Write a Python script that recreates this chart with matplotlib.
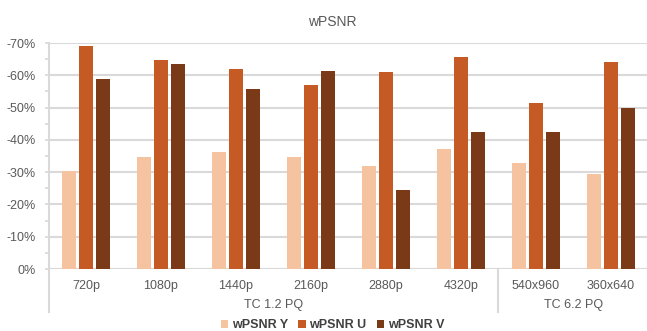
import matplotlib
matplotlib.use("Agg")
import matplotlib.pyplot as plt
import numpy as np
from matplotlib.ticker import FuncFormatter, MultipleLocator

plt.rcParams["font.family"] = ["Liberation Sans", "DejaVu Sans"]

categories = ["720p", "1080p", "1440p", "2160p", "2880p", "4320p", "540x960", "360x640"]
groups = ["TC 1.2 PQ", "TC 6.2 PQ"]
group_sizes = [6, 2]
series = ["wPSNR Y", "wPSNR U", "wPSNR V"]
wpsnr_y = [-30.5, -34.7, -36.3, -34.7, -31.9, -37.2, -32.7, -29.4]
wpsnr_u = [-69.0, -64.7, -61.9, -56.9, -61.1, -65.8, -51.3, -64.0]
wpsnr_v = [-58.8, -63.5, -55.6, -61.4, -24.5, -42.3, -42.3, -50.0]
colors = ["#F6C3A0", "#C55A25", "#7B3A17"]
TEXT = "#595959"
GRID = "#D9D9D9"

fig = plt.figure(figsize=(6.47, 3.31), dpi=100)
ax = fig.add_axes([48.5 / 647, 62 / 331, 600 / 647, 226 / 331])

x = np.arange(len(categories))
step, width = 0.227, 0.18
for i, (vals, col, name) in enumerate(zip([wpsnr_y, wpsnr_u, wpsnr_v], colors, series)):
    ax.bar(x + (i - 1) * step, vals, width, color=col, label=name, zorder=3)

ax.set_xlim(-0.5, len(categories) - 0.5)
ax.set_ylim(0, -70)
ax.yaxis.set_major_locator(MultipleLocator(10))
ax.yaxis.set_minor_locator(MultipleLocator(5))
ax.yaxis.set_major_formatter(FuncFormatter(lambda v, _: f"{v:.0f}%" if v else "0%"))
ax.grid(axis="y", color=GRID, lw=1.5, zorder=0)
for s in ("top", "right", "bottom"):
    ax.spines[s].set_visible(False)
ax.spines["left"].set_color(GRID)
ax.spines["left"].set_linewidth(1.5)
ax.tick_params(axis="y", which="both", length=3, color=GRID, width=1.2, pad=6,
               labelsize=9, labelcolor=TEXT)
ax.set_xticks(x, categories)
ax.tick_params(axis="x", length=0, pad=8, labelsize=9, labelcolor=TEXT)

# baseline + category separators below the axis
trans = ax.get_xaxis_transform()
ax.axhline(0, color=GRID, lw=1.5, zorder=2)
ax.plot([-0.5, -0.5], [0, -0.19], transform=trans, color=GRID, lw=1.5, clip_on=False)
start = 0
for g, n in zip(groups, group_sizes):
    ax.text(start + (n - 1) / 2, -0.159, g, transform=trans, ha="center", va="center",
            fontsize=9, color=TEXT)
    start += n
    if start < len(categories):
        ax.plot([start - 0.5, start - 0.5], [0, -0.19], transform=trans, color=GRID,
                lw=1.5, clip_on=False)

fig.text(0.513, 1 - 22 / 331, "wPSNR", ha="center", va="center", fontsize=10, color=TEXT)
leg = fig.legend(loc="center", bbox_to_anchor=(0.514, 1 - 325 / 331), ncol=3, frameon=False,
                 handlelength=0.6, handleheight=0.6, handletextpad=0.3, columnspacing=0.8,
                 prop={"size": 9, "weight": "bold"})
for t in leg.get_texts():
    t.set_color("#404040")

fig.savefig("out.png", dpi=100)
